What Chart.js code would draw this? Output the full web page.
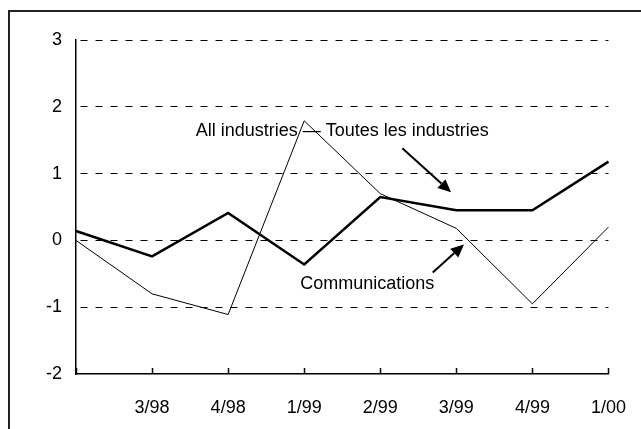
<!DOCTYPE html>
<html>
<head>
<meta charset="utf-8">
<script src="https://cdn.jsdelivr.net/npm/chart.js@4.4.1/dist/chart.umd.min.js"></script>
<style>
  html, body { margin: 0; padding: 0; background: #fff; }
  #chart { display: block; }
</style>
</head>
<body>
<canvas id="chart" width="641" height="429"></canvas>
<script>
// Quarterly change, %
const quarters = ['', '3/98', '4/98', '1/99', '2/99', '3/99', '4/99', '1/00'];
const allIndustries = [0.14, -0.24, 0.41, -0.36, 0.65, 0.45, 0.45, 1.18];
const communications = [0.0, -0.80, -1.11, 1.79, 0.70, 0.18, -0.95, 0.20];
const yMin = -2;
const yMax = 3;

const FONT = '"Liberation Sans", Arial, sans-serif';

// white page + the frame line that runs along the top and left edge
const framePlugin = {
    id: 'frame',
    beforeDraw(chart) {
        const ctx = chart.ctx;
        ctx.save();
        ctx.fillStyle = '#fff';
        ctx.fillRect(0, 0, chart.width, chart.height);
        ctx.strokeStyle = '#222';
        ctx.lineWidth = 2;
        ctx.beginPath();
        ctx.moveTo(9, chart.height);
        ctx.lineTo(9, 11);
        ctx.lineTo(chart.width, 11);
        ctx.stroke();
        ctx.restore();
    }
};

// tick marks on the category axis point up into the plot
const innerTicksPlugin = {
    id: 'innerTicks',
    afterDraw(chart) {
        const x = chart.scales.x;
        const ctx = chart.ctx;
        ctx.save();
        ctx.strokeStyle = '#000';
        ctx.lineWidth = 1.5;
        ctx.beginPath();
        x.ticks.forEach((t, i) => {
            const px = Math.round(x.getPixelForTick(i)) + 0.5;
            ctx.moveTo(px, x.top);
            ctx.lineTo(px, x.top - 6);
        });
        ctx.stroke();
        ctx.restore();
    }
};

function arrow(ctx, x1, y1, x2, y2) {
    const ang = Math.atan2(y2 - y1, x2 - x1);
    const head = 13;
    const bx = x2 - head * Math.cos(ang);
    const by = y2 - head * Math.sin(ang);
    ctx.beginPath();
    ctx.moveTo(x1, y1);
    ctx.lineTo(bx, by);
    ctx.lineWidth = 2;
    ctx.stroke();
    ctx.beginPath();
    ctx.moveTo(x2, y2);
    ctx.lineTo(bx + 6 * Math.sin(ang), by - 6 * Math.cos(ang));
    ctx.lineTo(bx - 6 * Math.sin(ang), by + 6 * Math.cos(ang));
    ctx.closePath();
    ctx.fill();
}

// series labels with their arrows, placed in data units
const labelsPlugin = {
    id: 'seriesLabels',
    afterDatasetsDraw(chart) {
        const x = chart.scales.x, y = chart.scales.y;
        const ctx = chart.ctx;
        ctx.save();
        ctx.fillStyle = '#000';
        ctx.strokeStyle = '#000';
        ctx.font = '18px ' + FONT;
        ctx.textAlign = 'center';
        ctx.textBaseline = 'middle';
        ctx.fillText('All industries \u2014 Toutes les industries', x.getPixelForValue(3.5), y.getPixelForValue(1.63));
        ctx.fillText('Communications', x.getPixelForValue(3.83), y.getPixelForValue(-0.66));
        arrow(ctx, x.getPixelForValue(4.29), y.getPixelForValue(1.38), x.getPixelForValue(4.93), y.getPixelForValue(0.72));
        arrow(ctx, x.getPixelForValue(4.69), y.getPixelForValue(-0.48), x.getPixelForValue(5.10), y.getPixelForValue(-0.06));
        ctx.restore();
    }
};

new Chart(document.getElementById('chart'), {
    type: 'line',
    data: {
        labels: quarters,
        datasets: [
            {
                label: 'All industries',
                data: allIndustries,
                borderColor: '#000',
                borderWidth: 2.5,
                pointRadius: 0,
                tension: 0
            },
            {
                label: 'Communications',
                data: communications,
                borderColor: '#000',
                borderWidth: 1,
                pointRadius: 0,
                tension: 0
            }
        ]
    },
    options: {
        responsive: false,
        animation: false,
        layout: {
            padding: { top: 40, right: 20, left: 0, bottom: 0 }
        },
        plugins: {
            legend: { display: false },
            tooltip: { enabled: false }
        },
        scales: {
            x: {
                type: 'category',
                offset: false,
                grid: { display: false },
                border: { display: true, color: '#000', width: 1.5 },
                ticks: {
                    color: '#000',
                    font: { family: FONT, size: 18 },
                    padding: 15,
                    maxRotation: 0,
                    autoSkip: false
                },
                afterFit(scale) { scale.height = 55; }
            },
            y: {
                min: yMin,
                max: yMax,
                grid: {
                    drawTicks: false,
                    color: ctx => ctx.tick && ctx.tick.value === yMin ? 'rgba(0,0,0,0)' : '#000',
                    lineWidth: 1
                },
                border: { display: true, color: '#000', width: 1.5, dash: [7, 8], dashOffset: 11 },
                ticks: {
                    stepSize: 1,
                    color: '#000',
                    font: { family: FONT, size: 18 },
                    padding: 14
                },
                afterFit(scale) { scale.width = 76; }
            }
        }
    },
    plugins: [framePlugin, innerTicksPlugin, labelsPlugin]
});
</script>
</body>
</html>
